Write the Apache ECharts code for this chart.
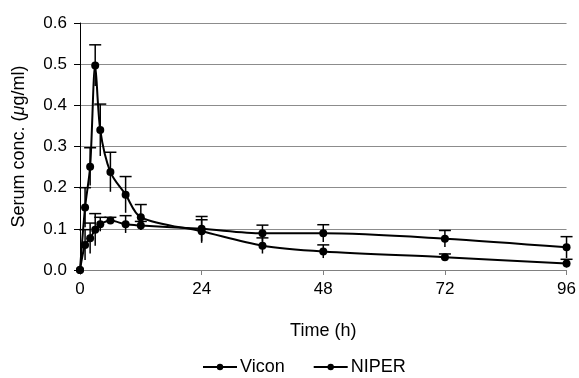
<!DOCTYPE html>
<html>
<head>
<meta charset="utf-8">
<script src="https://cdn.jsdelivr.net/npm/echarts@6/dist/echarts.min.js"></script>
<style>
html,body{margin:0;padding:0;background:#fff;}
#chart{width:579px;height:378px;}
</style>
</head>
<body>
<div id="chart"></div>
<script>
var times = [0, 1, 2, 3, 4, 6, 9, 12, 24, 36, 48, 72, 96];
var viconMean = [0, 0.152, 0.251, 0.497, 0.340, 0.238, 0.183, 0.128, 0.094, 0.059, 0.045, 0.031, 0.016];
var viconSD   = [0, 0.048, 0.046, 0.050, 0.063, 0.048, 0.044, 0.031, 0.028, 0.019, 0.016, 0.008, 0.010];
var niperMean = [0, 0.061, 0.077, 0.098, 0.111, 0.120, 0.111, 0.108, 0.100, 0.089, 0.089, 0.076, 0.055];
var niperSD   = [0, 0.037, 0.037, 0.039, 0.017, 0.008, 0.021, 0.010, 0.030, 0.020, 0.021, 0.020, 0.026];
var xTicks = [0, 24, 48, 72, 96];
var yTicks = [0.0, 0.1, 0.2, 0.3, 0.4, 0.5, 0.6];

function pts(mean) { return times.map(function (t, i) { return [t, mean[i]]; }); }
function errs(mean, sd) { return times.map(function (t, i) { return [t, mean[i], sd[i]]; }); }

function renderErr(params, api) {
  var x = api.value(0), m = api.value(1), s = api.value(2);
  if (!s) return null;
  var top = api.coord([x, m + s]);
  var bot = api.coord([x, Math.max(0, m - s)]);
  var hw = 6;
  var st = { stroke: '#000', lineWidth: 1.5 };
  return {
    type: 'group',
    children: [
      { type: 'line', shape: { x1: top[0], y1: top[1], x2: bot[0], y2: bot[1] }, style: st },
      { type: 'line', shape: { x1: top[0] - hw, y1: top[1], x2: top[0] + hw, y2: top[1] }, style: st }
    ]
  };
}

var chart = echarts.init(document.getElementById('chart'));
var font = 'Liberation Sans, Arial, sans-serif';
chart.setOption({
  animation: false,
  backgroundColor: '#fff',
  grid: { left: 80, right: 12, top: 23, bottom: 108, containLabel: false },
  legend: {
    left: 197, top: 353,
    itemWidth: 34, itemHeight: 8, itemGap: 28,
    data: ['Vicon', 'NIPER'],
    textStyle: { fontFamily: font, fontSize: 18, color: '#000', padding: [0, 0, 0, -2] }
  },
  xAxis: {
    type: 'value', min: xTicks[0], max: xTicks[xTicks.length - 1], interval: 24,
    name: 'Time (h)', nameLocation: 'middle', nameGap: 52,
    nameTextStyle: { fontFamily: font, fontSize: 18, color: '#000' },
    axisLine: { lineStyle: { color: '#808080', width: 1 } },
    axisTick: { show: true, length: 5, lineStyle: { color: '#808080' } },
    axisLabel: { fontFamily: font, fontSize: 17, color: '#000', margin: 11 },
    splitLine: { show: false }
  },
  yAxis: {
    type: 'value', min: yTicks[0], max: yTicks[yTicks.length - 1], interval: 0.1,
    name: 'Serum conc. ({i|μ}g/ml)', nameLocation: 'middle', nameGap: 52,
    nameTextStyle: { fontFamily: font, fontSize: 18, color: '#000',
      rich: { i: { fontFamily: font, fontSize: 18, fontStyle: 'italic', color: '#000' } } },
    axisLine: { show: true, lineStyle: { color: '#000', width: 1 } },
    axisTick: { show: true, length: 6, lineStyle: { color: '#000' } },
    axisLabel: { fontFamily: font, fontSize: 17, color: '#000', margin: 13,
      formatter: function (v) { return v.toFixed(1); } },
    splitLine: { show: true, lineStyle: { color: '#8c8c8c', width: 1 } }
  },
  series: [
    { name: 'VErr', type: 'custom', renderItem: renderErr, data: errs(viconMean, viconSD), z: 2, silent: true },
    { name: 'NErr', type: 'custom', renderItem: renderErr, data: errs(niperMean, niperSD), z: 2, silent: true },
    { name: 'Vicon', type: 'line', data: pts(viconMean), smooth: 0.3, symbol: 'circle', symbolSize: 8,
      lineStyle: { color: '#000', width: 2 }, itemStyle: { color: '#000' }, z: 3 },
    { name: 'NIPER', type: 'line', data: pts(niperMean), smooth: 0.3, symbol: 'circle', symbolSize: 8,
      lineStyle: { color: '#000', width: 2 }, itemStyle: { color: '#000' }, z: 3 }
  ]
});
</script>
</body>
</html>
